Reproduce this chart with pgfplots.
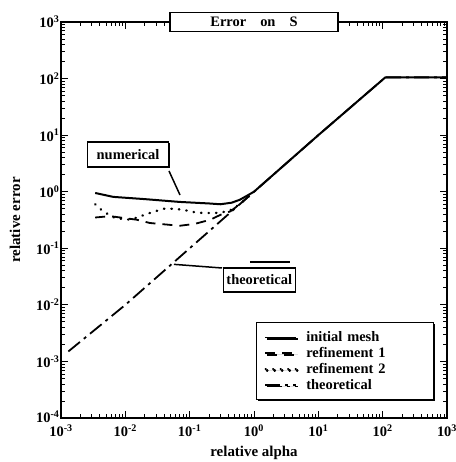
\documentclass[border=0pt]{standalone}
\usepackage{fontspec}
\setmainfont{Liberation Serif}
\usepackage{pgfplots}
\pgfplotsset{compat=1.18}
\usetikzlibrary{shadows}
\newcommand{\tl}[1]{\textbf{10}\textsuperscript{\textbf{#1}}}
\begin{document}
\begin{tikzpicture}
\begin{axis}[
  at={(0,0)}, anchor=south west,
  scale only axis, width=386bp, height=396bp,
  xmode=log, ymode=log,
  xmin=1e-3, xmax=1e3, ymin=1e-4, ymax=1e3,
  xtick={1e-3,1e-2,1e-1,1,1e1,1e2,1e3},
  xticklabels={\tl{-3},\tl{-2},\tl{-1},\tl{0},\tl{1},\tl{2},\tl{3}},
  ytick={1e-4,1e-3,1e-2,1e-1,1,1e1,1e2,1e3},
  yticklabels={\raisebox{3bp}{\tl{-4}},\tl{-3},\tl{-2},\tl{-1},\tl{0},\tl{1},\tl{2},\tl{3}},
  tick label style={font=\fontsize{14.5}{16}\selectfont},
  xticklabel style={yshift=-3.5bp},
  yticklabel style={xshift=2bp},
  major tick length=7bp, minor tick length=4bp,
  every tick/.style={black, line width=0.8bp},
  axis line style={line width=1.5bp},
  xlabel={\textbf{relative alpha}},
  ylabel={\textbf{relative error}},
  label style={font=\fontsize{15}{16}\selectfont},
  xlabel style={at={(rel axis cs:0.5,0)}, anchor=center, yshift=-35bp},
  ylabel style={at={(rel axis cs:0,0.5)}, anchor=center, yshift=46bp},
  legend style={at={(rel axis cs:0.505,0.242)}, anchor=north west,
    draw=black, line width=1.2bp, fill=white,
    drop shadow={shadow xshift=1.5bp, shadow yshift=-1.5bp, opacity=1, fill=black},
    nodes={font=\fontsize{14.5}{16}\selectfont\bfseries, inner sep=1bp},
    inner xsep=8bp, inner ysep=8bp, row sep=2.2bp,
    /tikz/every odd column/.append style={column sep=8bp},
    /tikz/every even column/.append style={text width=118bp}},
  legend cell align=left,
  legend image code/.code={\draw[#1, line width=1.8bp] (0bp,0bp) -- (31bp,0bp);},
  clip=false,
]
% initial mesh (solid)
\addplot[black, line width=2bp] coordinates {
  (0.0034,0.95) (0.0065,0.81) (0.02,0.74) (0.07,0.66) (0.2,0.62) (0.3,0.6)
  (0.45,0.64) (0.6,0.72) (0.78,0.85) (1,1) (10,10) (110,105) (1000,105)};
\addlegendentry{initial mesh}
% refinement 1 (dashed)
\addplot[black, line width=1.8bp, dash pattern=on 10bp off 7bp] coordinates {
  (0.0034,0.35) (0.0058,0.37) (0.015,0.32) (0.024,0.28) (0.07,0.25) (0.12,0.27)
  (0.21,0.32) (0.3,0.39) (0.43,0.45) (0.6,0.6) (1,1)};
\addlegendentry{refinement 1}
% refinement 2 (dotted)
\addplot[black, line width=2.4bp, line cap=round, dash pattern=on 0.5bp off 7bp] coordinates {
  (0.0034,0.6) (0.0045,0.45) (0.007,0.34) (0.012,0.32) (0.027,0.44) (0.04,0.5)
  (0.055,0.5) (0.08,0.48) (0.11,0.44) (0.16,0.42) (0.25,0.42) (0.4,0.45) (0.6,0.6) (1,1)};
\addlegendentry{refinement 2}
% theoretical (dash-dot)
\addplot[black, line width=1.8bp, dash pattern=on 15bp off 5bp on 3bp off 5bp] coordinates {
  (0.0013,0.0015) (0.01,0.01) (0.1,0.1) (1,1) (10,10) (110,105) (1000,105)};
\addlegendentry{theoretical}
% title box
\node[draw, line width=1.2bp, fill=white, minimum width=168bp, minimum height=19bp,
  font=\fontsize{14.5}{16}\selectfont\bfseries] at (rel axis cs:0.5,1) {Error\hspace{14bp}on\hspace{14bp}S};
% numerical annotation
\draw[line width=1.5bp] (rel axis cs:0.2798,0.6238) -- (rel axis cs:0.3083,0.5631);
\node[draw, line width=1.2bp, fill=white, minimum width=81bp, minimum height=25bp,
  drop shadow={shadow xshift=1bp, shadow yshift=-1.5bp, opacity=1, fill=black},
  font=\fontsize{14.5}{16}\selectfont\bfseries] at (rel axis cs:0.1736,0.6654) {numerical};
% theoretical annotation
\draw[line width=1.5bp] (rel axis cs:0.2927,0.3880) -- (rel axis cs:0.4171,0.3788);
\draw[line width=1.5bp] (rel axis cs:0.4896,0.3939) -- (rel axis cs:0.5933,0.3939);
\node[draw, line width=1.2bp, fill=white, minimum width=71bp, minimum height=24bp,
  font=\fontsize{14.5}{16}\selectfont\bfseries] at (rel axis cs:0.5136,0.3485) {theoretical};
\end{axis}
\pgfresetboundingbox
\path[use as bounding box] (-61bp,-44bp) rectangle (395bp,418bp);
\end{tikzpicture}
\end{document}
